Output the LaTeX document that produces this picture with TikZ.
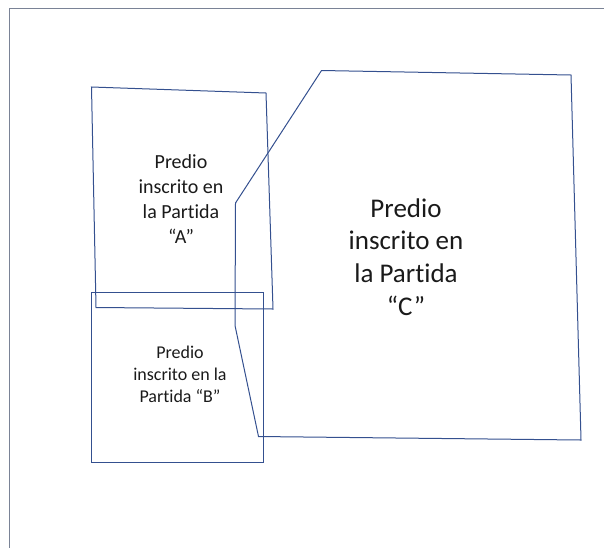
\documentclass[tikz,border=0pt]{standalone}
\usepackage{fontspec}
\setmainfont{Carlito}[Ligatures=NoCommon]
\definecolor{plotblue}{HTML}{34508F}
\definecolor{framegray}{HTML}{7A8396}
\definecolor{txt}{HTML}{1A1A1A}
\begin{document}
\begin{tikzpicture}[x=1pt,y=-1pt,
  lot/.style={draw=plotblue,line width=1pt,line join=miter},
  label/.style={align=center,text=txt,inner sep=0pt}]
\useasboundingbox (0,0) rectangle (604,547);
\begin{scope}
\clip (0,0) rectangle (604,547);
\draw[framegray,line width=1.7pt] (9.5,560) -- (9.5,8.5) -- (620,8.5);
\end{scope}
% Predio A
\draw[lot] (91.5,87) -- (266,93) -- (273,309) -- (96,307.5) -- cycle;
% Predio B
\draw[lot] (91,292) -- (263,292) -- (263,462) -- (91,462) -- cycle;
% Predio C
\draw[lot] (321.5,70.5) -- (571,75) -- (581,440) -- (258.5,436.5) -- (235,325.5) -- (235.5,203) -- cycle;
\node[label,font=\fontsize{20}{25}\selectfont] (ta) at (181,199) {Predio\\inscrito en\\la Partida\\“A”};
\node[label,font=\fontsize{18}{22}\selectfont] (tb) at (180,374) {Predio\\inscrito en la\\Partida “B”};
\node[label,font=\fontsize{27}{32.7}\selectfont] (tc) at (406,257) {Predio\\inscrito en\\la Partida\\“C”};
\end{tikzpicture}
\end{document}
